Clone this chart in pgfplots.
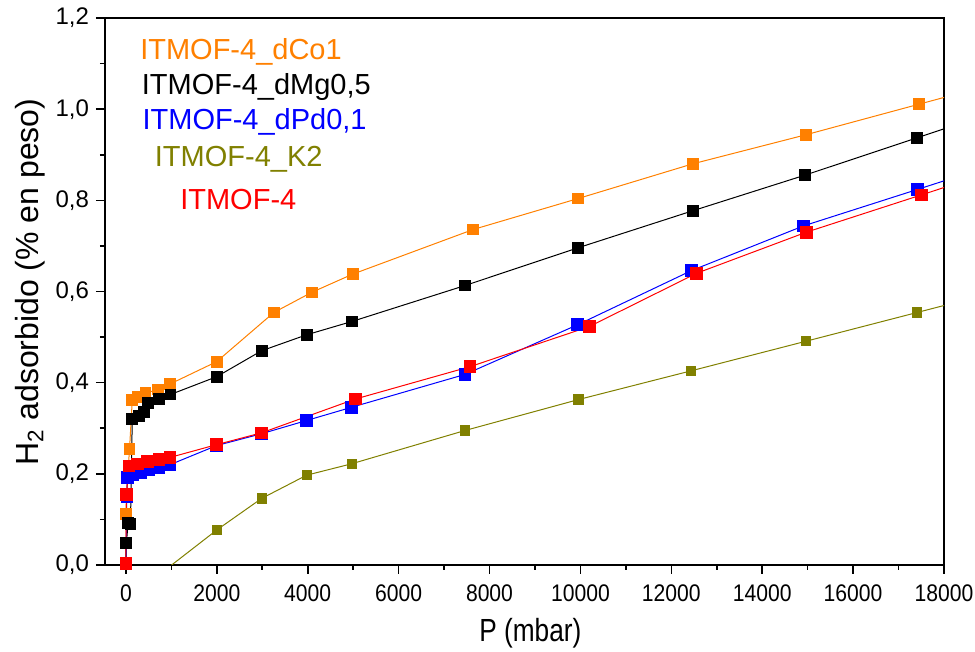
\documentclass[border=0pt]{standalone}
\usepackage{fontspec}
\setmainfont{Liberation Sans}
\usepackage{graphicx}
\usepackage{pgfplots}
\pgfplotsset{compat=1.18}
\definecolor{corange}{RGB}{255,128,0}
\definecolor{colive}{RGB}{128,128,0}
\definecolor{cblue}{RGB}{0,0,255}
\definecolor{cred}{RGB}{255,0,0}
\begin{document}
\begin{tikzpicture}
\begin{axis}[name=ax, scale only axis, width=419.5pt, height=273.5pt,
  xmin=-460, xmax=18000, ymin=0, ymax=1.2,
  scaled x ticks=false, scaled y ticks=false,
  xtick={0,2000,4000,6000,8000,10000,12000,14000,16000,18000},
  ytick={0,0.2,0.4,0.6,0.8,1.0,1.2},
  minor x tick num=1, minor y tick num=1,
  tick align=outside, xtick pos=left, ytick pos=left,
  major tick length=4.5pt, minor tick length=2.5pt,
  tick style={black, line width=0.8pt}, axis line style={line width=1pt},
  /pgf/number format/assume math mode=true,
  tick label style={font=\fontsize{12}{12}\selectfont},
  xticklabel={\scalebox{0.88}[1]{\pgfmathprintnumber[fixed, precision=0, 1000 sep={}]{\tick}}},
  yticklabel={\pgfmathprintnumber[fixed, fixed zerofill, precision=1, use comma]{\tick}},
  xticklabel style={yshift=-2pt},
  xlabel={\scalebox{0.82}[1]{P (mbar)}},
  ylabel={H\textsubscript{2} adsorbido (\% en peso)},
  label style={font=\fontsize{16}{16}\selectfont},
  xlabel style={at={(axis description cs:0.507,-0.124)}, anchor=center},
  ylabel style={at={(axis description cs:-0.0894,0.517)}, anchor=center},
]
% ITMOF-4_dCo1
\addplot[color=corange, line width=0.5pt, mark=square*, mark size=2.7pt] coordinates {
(0,0.003) (5,0.112) (10,0.154) (80,0.254) (140,0.362) (270,0.369) (430,0.377)
(710,0.385) (970,0.397) (1996,0.446) (3256,0.554) (4086,0.598) (4988,0.638)
(7641,0.736) (9952,0.804) (12469,0.880) (14968,0.944) (17454,1.011) (19500,1.066)
};
% ITMOF-4_dMg0,5
\addplot[color=black, line width=0.5pt, mark=square*, mark size=2.7pt] coordinates {
(0,0.005) (10,0.048) (50,0.093) (100,0.090) (140,0.320) (290,0.327) (400,0.335)
(490,0.355) (730,0.364) (980,0.374) (1996,0.413) (2986,0.470) (3976,0.505)
(4966,0.534) (7459,0.613) (9952,0.696) (12469,0.777) (14933,0.855) (17404,0.937) (19500,1.007)
};
% ITMOF-4_dPd0,1
\addplot[color=cblue, line width=0.5pt, mark=square*, mark size=2.9pt] coordinates {
(0,0.003) (20,0.150) (30,0.192) (140,0.197) (320,0.202) (505,0.208) (725,0.214)
(970,0.220) (1996,0.262) (2986,0.288) (3976,0.317) (4966,0.346) (7459,0.418)
(9938,0.527) (12447,0.646) (14911,0.744) (17419,0.824) (19500,0.891)
};
% ITMOF-4_K2
\addplot[color=colive, line width=0.5pt, mark=square*, mark size=2.3pt] coordinates {
(800,-0.016) (2002,0.077) (2986,0.146) (3976,0.197) (4966,0.222) (7459,0.295)
(9960,0.363) (12438,0.426) (14968,0.491) (17410,0.554) (19500,0.608)
};
% ITMOF-4
\addplot[color=cred, line width=0.5pt, mark=square*, mark size=2.9pt] coordinates {
(0,0.003) (10,0.154) (70,0.217) (250,0.222) (470,0.227) (725,0.232) (970,0.236)
(1996,0.264) (2986,0.290) (5045,0.364) (7569,0.435) (10194,0.523) (12557,0.640)
(14968,0.730) (17507,0.812) (19500,0.877)
};
\node[anchor=base west, inner sep=0pt, text=corange, font=\fontsize{14.5}{14.5}\selectfont] at (axis cs:307,1.108) {ITMOF-4\_dCo1};
\node[anchor=base west, inner sep=0pt, text=black, font=\fontsize{14.5}{14.5}\selectfont] at (axis cs:343,1.033) {ITMOF-4\_dMg0,5};
\node[anchor=base west, inner sep=0pt, text=cblue, font=\fontsize{14.5}{14.5}\selectfont] at (axis cs:358,0.956) {ITMOF-4\_dPd0,1};
\node[anchor=base west, inner sep=0pt, text=colive, font=\fontsize{14.5}{14.5}\selectfont] at (axis cs:629,0.874) {ITMOF-4\_K2};
\node[anchor=base west, inner sep=0pt, text=cred, font=\fontsize{14.5}{14.5}\selectfont] at (axis cs:1188,0.779) {ITMOF-4};
\end{axis}
\pgfresetboundingbox
\path ([shift={(-52.5pt,-43.5pt)}]ax.south west) rectangle ([shift={(15.5pt,9pt)}]ax.north east);
\end{tikzpicture}
\end{document}
